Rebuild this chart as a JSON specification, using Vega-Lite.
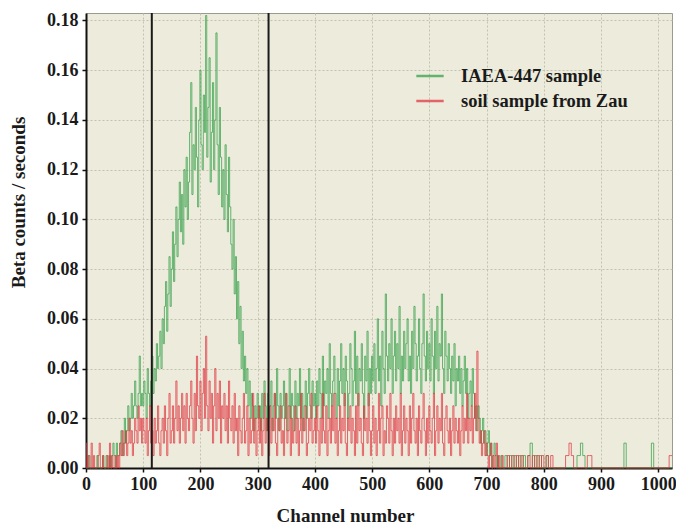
{
  "$schema": "https://vega.github.io/schema/vega-lite/v6.json",
  "autosize": {"type": "none"},
  "padding": {"left": 86, "top": 13, "right": 4, "bottom": 57},
  "width": 586,
  "height": 455,
  "config": {
    "font": "Liberation Serif",
    "view": {"fill": "#ecebdc", "stroke": "#9a9a90", "strokeWidth": 1}
  },
  "datasets": {
    "spec": [
      {"c":0,"g":0,"r":0.01},{"c":2,"g":0,"r":0},{"c":4,"g":0,"r":0.005},{"c":6,"g":0.005,"r":0},{"c":8,"g":0,"r":0},
      {"c":10,"g":0,"r":0.01},{"c":12,"g":0,"r":0},{"c":14,"g":0,"r":0.005},{"c":16,"g":0,"r":0},{"c":18,"g":0,"r":0},
      {"c":20,"g":0.005,"r":0},{"c":22,"g":0,"r":0.005},{"c":24,"g":0,"r":0.01},{"c":26,"g":0,"r":0},{"c":28,"g":0,"r":0},
      {"c":30,"g":0.005,"r":0.005},{"c":32,"g":0,"r":0},{"c":34,"g":0,"r":0},{"c":36,"g":0.005,"r":0},{"c":38,"g":0,"r":0.005},
      {"c":40,"g":0,"r":0},{"c":42,"g":0.005,"r":0.01},{"c":44,"g":0,"r":0},{"c":46,"g":0.005,"r":0.005},{"c":48,"g":0.01,"r":0},
      {"c":50,"g":0.005,"r":0},{"c":52,"g":0,"r":0.005},{"c":54,"g":0.01,"r":0},{"c":56,"g":0.005,"r":0.005},{"c":58,"g":0.005,"r":0},
      {"c":60,"g":0.01,"r":0.01},{"c":62,"g":0.015,"r":0.005},{"c":64,"g":0.005,"r":0.015},{"c":66,"g":0.01,"r":0.005},{"c":68,"g":0.02,"r":0.01},
      {"c":70,"g":0.01,"r":0.015},{"c":72,"g":0.015,"r":0.005},{"c":74,"g":0.025,"r":0.01},{"c":76,"g":0.015,"r":0.02},{"c":78,"g":0.02,"r":0.01},
      {"c":80,"g":0.03,"r":0.015},{"c":82,"g":0.02,"r":0.005},{"c":84,"g":0.025,"r":0.01},{"c":86,"g":0.035,"r":0.02},{"c":88,"g":0.025,"r":0.015},
      {"c":90,"g":0.02,"r":0.01},{"c":92,"g":0.03,"r":0.025},{"c":94,"g":0.045,"r":0.015},{"c":96,"g":0.025,"r":0.02},{"c":98,"g":0.03,"r":0.01},
      {"c":100,"g":0.025,"r":0.02},{"c":102,"g":0.035,"r":0.015},{"c":104,"g":0.03,"r":0.01},{"c":106,"g":0.02,"r":0.02},{"c":108,"g":0.04,"r":0.005},
      {"c":110,"g":0.03,"r":0.015},{"c":112,"g":0.025,"r":0.025},{"c":114,"g":0.035,"r":0.01},{"c":116,"g":0.045,"r":0.015},{"c":118,"g":0.03,"r":0.005},
      {"c":120,"g":0.04,"r":0.02},{"c":122,"g":0.035,"r":0.01},{"c":124,"g":0.05,"r":0.015},{"c":126,"g":0.04,"r":0.025},{"c":128,"g":0.045,"r":0.01},
      {"c":130,"g":0.055,"r":0.005},{"c":132,"g":0.04,"r":0.015},{"c":134,"g":0.06,"r":0.02},{"c":136,"g":0.05,"r":0.01},{"c":138,"g":0.065,"r":0.025},
      {"c":140,"g":0.075,"r":0.015},{"c":142,"g":0.055,"r":0.005},{"c":144,"g":0.07,"r":0.02},{"c":146,"g":0.085,"r":0.03},{"c":148,"g":0.065,"r":0.01},
      {"c":150,"g":0.08,"r":0.015},{"c":152,"g":0.095,"r":0.025},{"c":154,"g":0.075,"r":0.01},{"c":156,"g":0.09,"r":0.02},{"c":158,"g":0.105,"r":0.035},
      {"c":160,"g":0.085,"r":0.015},{"c":162,"g":0.1,"r":0.025},{"c":164,"g":0.115,"r":0.01},{"c":166,"g":0.095,"r":0.02},{"c":168,"g":0.11,"r":0.03},
      {"c":170,"g":0.09,"r":0.015},{"c":172,"g":0.12,"r":0.025},{"c":174,"g":0.105,"r":0.01},{"c":176,"g":0.125,"r":0.03},{"c":178,"g":0.1,"r":0.02},
      {"c":180,"g":0.115,"r":0.015},{"c":182,"g":0.135,"r":0.025},{"c":184,"g":0.155,"r":0.035},{"c":186,"g":0.11,"r":0.02},{"c":188,"g":0.13,"r":0.01},
      {"c":190,"g":0.12,"r":0.03},{"c":192,"g":0.145,"r":0.015},{"c":194,"g":0.125,"r":0.045},{"c":196,"g":0.105,"r":0.025},{"c":198,"g":0.14,"r":0.02},
      {"c":200,"g":0.16,"r":0.035},{"c":202,"g":0.13,"r":0.015},{"c":204,"g":0.12,"r":0.03},{"c":206,"g":0.15,"r":0.04},{"c":208,"g":0.135,"r":0.02},
      {"c":210,"g":0.182,"r":0.053},{"c":212,"g":0.125,"r":0.025},{"c":214,"g":0.145,"r":0.015},{"c":216,"g":0.165,"r":0.035},{"c":218,"g":0.115,"r":0.02},
      {"c":220,"g":0.135,"r":0.03},{"c":222,"g":0.155,"r":0.01},{"c":224,"g":0.12,"r":0.025},{"c":226,"g":0.14,"r":0.04},{"c":228,"g":0.175,"r":0.015},
      {"c":230,"g":0.13,"r":0.03},{"c":232,"g":0.11,"r":0.02},{"c":234,"g":0.145,"r":0.035},{"c":236,"g":0.125,"r":0.01},{"c":238,"g":0.105,"r":0.025},
      {"c":240,"g":0.12,"r":0.02},{"c":242,"g":0.1,"r":0.03},{"c":244,"g":0.13,"r":0.015},{"c":246,"g":0.11,"r":0.025},{"c":248,"g":0.095,"r":0.01},
      {"c":250,"g":0.125,"r":0.035},{"c":252,"g":0.105,"r":0.02},{"c":254,"g":0.09,"r":0.015},{"c":256,"g":0.08,"r":0.025},{"c":258,"g":0.1,"r":0.01},
      {"c":260,"g":0.07,"r":0.03},{"c":262,"g":0.085,"r":0.015},{"c":264,"g":0.06,"r":0.02},{"c":266,"g":0.075,"r":0.005},{"c":268,"g":0.05,"r":0.025},
      {"c":270,"g":0.065,"r":0.015},{"c":272,"g":0.04,"r":0.01},{"c":274,"g":0.055,"r":0.02},{"c":276,"g":0.035,"r":0.03},{"c":278,"g":0.045,"r":0.01},
      {"c":280,"g":0.03,"r":0.015},{"c":282,"g":0.04,"r":0.025},{"c":284,"g":0.025,"r":0.005},{"c":286,"g":0.035,"r":0.02},{"c":288,"g":0.02,"r":0.01},
      {"c":290,"g":0.03,"r":0.015},{"c":292,"g":0.025,"r":0.03},{"c":294,"g":0.015,"r":0.01},{"c":296,"g":0.025,"r":0.02},{"c":298,"g":0.02,"r":0.005},
      {"c":300,"g":0.03,"r":0.015},{"c":302,"g":0.02,"r":0.025},{"c":304,"g":0.025,"r":0.01},{"c":306,"g":0.015,"r":0.02},{"c":308,"g":0.03,"r":0.005},
      {"c":310,"g":0.02,"r":0.015},{"c":312,"g":0.035,"r":0.03},{"c":314,"g":0.025,"r":0.01},{"c":316,"g":0.015,"r":0.02},{"c":318,"g":0.03,"r":0.015},
      {"c":320,"g":0.02,"r":0.005},{"c":322,"g":0.025,"r":0.025},{"c":324,"g":0.035,"r":0.01},{"c":326,"g":0.015,"r":0.02},{"c":328,"g":0.025,"r":0.015},
      {"c":330,"g":0.03,"r":0.03},{"c":332,"g":0.02,"r":0.01},{"c":334,"g":0.04,"r":0.005},{"c":336,"g":0.025,"r":0.02},{"c":338,"g":0.015,"r":0.015},
      {"c":340,"g":0.03,"r":0.025},{"c":342,"g":0.02,"r":0.01},{"c":344,"g":0.025,"r":0.015},{"c":346,"g":0.035,"r":0.005},{"c":348,"g":0.02,"r":0.02},
      {"c":350,"g":0.03,"r":0.03},{"c":352,"g":0.015,"r":0.01},{"c":354,"g":0.025,"r":0.015},{"c":356,"g":0.04,"r":0.025},{"c":358,"g":0.02,"r":0.005},
      {"c":360,"g":0.03,"r":0.02},{"c":362,"g":0.025,"r":0.01},{"c":364,"g":0.015,"r":0.015},{"c":366,"g":0.035,"r":0.025},{"c":368,"g":0.02,"r":0.01},
      {"c":370,"g":0.03,"r":0.02},{"c":372,"g":0.025,"r":0.005},{"c":374,"g":0.04,"r":0.015},{"c":376,"g":0.02,"r":0.03},{"c":378,"g":0.03,"r":0.01},
      {"c":380,"g":0.015,"r":0.02},{"c":382,"g":0.025,"r":0.015},{"c":384,"g":0.035,"r":0.025},{"c":386,"g":0.02,"r":0.005},{"c":388,"g":0.03,"r":0.01},
      {"c":390,"g":0.04,"r":0.02},{"c":392,"g":0.025,"r":0.015},{"c":394,"g":0.02,"r":0.03},{"c":396,"g":0.035,"r":0.01},{"c":398,"g":0.025,"r":0.015},
      {"c":400,"g":0.03,"r":0.02},{"c":402,"g":0.02,"r":0.01},{"c":404,"g":0.035,"r":0.025},{"c":406,"g":0.025,"r":0.015},{"c":408,"g":0.04,"r":0.005},
      {"c":410,"g":0.03,"r":0.02},{"c":412,"g":0.02,"r":0.01},{"c":414,"g":0.045,"r":0.03},{"c":416,"g":0.025,"r":0.015},{"c":418,"g":0.035,"r":0.01},
      {"c":420,"g":0.03,"r":0.025},{"c":422,"g":0.04,"r":0.005},{"c":424,"g":0.02,"r":0.015},{"c":426,"g":0.05,"r":0.02},{"c":428,"g":0.03,"r":0.01},
      {"c":430,"g":0.025,"r":0.025},{"c":432,"g":0.035,"r":0.015},{"c":434,"g":0.045,"r":0.03},{"c":436,"g":0.03,"r":0.01},{"c":438,"g":0.02,"r":0.02},
      {"c":440,"g":0.04,"r":0.005},{"c":442,"g":0.025,"r":0.015},{"c":444,"g":0.035,"r":0.025},{"c":446,"g":0.05,"r":0.01},{"c":448,"g":0.03,"r":0.02},
      {"c":450,"g":0.04,"r":0.015},{"c":452,"g":0.025,"r":0.03},{"c":454,"g":0.045,"r":0.01},{"c":456,"g":0.035,"r":0.005},{"c":458,"g":0.02,"r":0.02},
      {"c":460,"g":0.03,"r":0.015},{"c":462,"g":0.05,"r":0.025},{"c":464,"g":0.04,"r":0.01},{"c":466,"g":0.025,"r":0.02},{"c":468,"g":0.035,"r":0.015},
      {"c":470,"g":0.055,"r":0.005},{"c":472,"g":0.03,"r":0.025},{"c":474,"g":0.045,"r":0.01},{"c":476,"g":0.025,"r":0.03},{"c":478,"g":0.04,"r":0.015},
      {"c":480,"g":0.035,"r":0.02},{"c":482,"g":0.05,"r":0.01},{"c":484,"g":0.03,"r":0.005},{"c":486,"g":0.02,"r":0.025},{"c":488,"g":0.045,"r":0.015},
      {"c":490,"g":0.035,"r":0.02},{"c":492,"g":0.055,"r":0.01},{"c":494,"g":0.025,"r":0.03},{"c":496,"g":0.04,"r":0.015},{"c":498,"g":0.03,"r":0.005},
      {"c":500,"g":0.045,"r":0.015},{"c":502,"g":0.035,"r":0.025},{"c":504,"g":0.05,"r":0.01},{"c":506,"g":0.03,"r":0.02},{"c":508,"g":0.04,"r":0.005},
      {"c":510,"g":0.06,"r":0.015},{"c":512,"g":0.035,"r":0.03},{"c":514,"g":0.045,"r":0.01},{"c":516,"g":0.025,"r":0.02},{"c":518,"g":0.055,"r":0.025},
      {"c":520,"g":0.04,"r":0.005},{"c":522,"g":0.03,"r":0.015},{"c":524,"g":0.07,"r":0.01},{"c":526,"g":0.045,"r":0.025},{"c":528,"g":0.035,"r":0.02},
      {"c":530,"g":0.05,"r":0.01},{"c":532,"g":0.04,"r":0.03},{"c":534,"g":0.06,"r":0.015},{"c":536,"g":0.03,"r":0.005},{"c":538,"g":0.045,"r":0.02},
      {"c":540,"g":0.055,"r":0.01},{"c":542,"g":0.035,"r":0.025},{"c":544,"g":0.05,"r":0.015},{"c":546,"g":0.04,"r":0.02},{"c":548,"g":0.065,"r":0.01},
      {"c":550,"g":0.03,"r":0.03},{"c":552,"g":0.045,"r":0.005},{"c":554,"g":0.035,"r":0.015},{"c":556,"g":0.055,"r":0.025},{"c":558,"g":0.04,"r":0.01},
      {"c":560,"g":0.05,"r":0.02},{"c":562,"g":0.06,"r":0.015},{"c":564,"g":0.035,"r":0.005},{"c":566,"g":0.045,"r":0.025},{"c":568,"g":0.03,"r":0.01},
      {"c":570,"g":0.055,"r":0.02},{"c":572,"g":0.04,"r":0.03},{"c":574,"g":0.065,"r":0.015},{"c":576,"g":0.05,"r":0.01},{"c":578,"g":0.035,"r":0.02},
      {"c":580,"g":0.045,"r":0.005},{"c":582,"g":0.06,"r":0.025},{"c":584,"g":0.04,"r":0.015},{"c":586,"g":0.03,"r":0.01},{"c":588,"g":0.05,"r":0.02},
      {"c":590,"g":0.07,"r":0.03},{"c":592,"g":0.045,"r":0.015},{"c":594,"g":0.035,"r":0.005},{"c":596,"g":0.055,"r":0.02},{"c":598,"g":0.04,"r":0.01},
      {"c":600,"g":0.05,"r":0.025},{"c":602,"g":0.035,"r":0.015},{"c":604,"g":0.06,"r":0.01},{"c":606,"g":0.045,"r":0.02},{"c":608,"g":0.03,"r":0.03},
      {"c":610,"g":0.055,"r":0.005},{"c":612,"g":0.04,"r":0.015},{"c":614,"g":0.065,"r":0.025},{"c":616,"g":0.035,"r":0.01},{"c":618,"g":0.05,"r":0.02},
      {"c":620,"g":0.045,"r":0.015},{"c":622,"g":0.07,"r":0.03},{"c":624,"g":0.04,"r":0.01},{"c":626,"g":0.03,"r":0.005},{"c":628,"g":0.055,"r":0.02},
      {"c":630,"g":0.045,"r":0.025},{"c":632,"g":0.035,"r":0.015},{"c":634,"g":0.05,"r":0.01},{"c":636,"g":0.04,"r":0.02},{"c":638,"g":0.03,"r":0.005},
      {"c":640,"g":0.045,"r":0.015},{"c":642,"g":0.035,"r":0.025},{"c":644,"g":0.05,"r":0.01},{"c":646,"g":0.025,"r":0.02},{"c":648,"g":0.04,"r":0.015},
      {"c":650,"g":0.035,"r":0.01},{"c":652,"g":0.045,"r":0.02},{"c":654,"g":0.03,"r":0.005},{"c":656,"g":0.04,"r":0.015},{"c":658,"g":0.025,"r":0.025},
      {"c":660,"g":0.035,"r":0.01},{"c":662,"g":0.045,"r":0.02},{"c":664,"g":0.03,"r":0.015},{"c":666,"g":0.04,"r":0.03},{"c":668,"g":0.02,"r":0.01},
      {"c":670,"g":0.03,"r":0.02},{"c":672,"g":0.035,"r":0.015},{"c":674,"g":0.025,"r":0.025},{"c":676,"g":0.04,"r":0.01},{"c":678,"g":0.03,"r":0.02},
      {"c":680,"g":0.02,"r":0.03},{"c":682,"g":0.025,"r":0.015},{"c":684,"g":0.015,"r":0.047},{"c":686,"g":0.025,"r":0.02},{"c":688,"g":0.02,"r":0.01},
      {"c":690,"g":0.01,"r":0.015},{"c":692,"g":0.015,"r":0.005},{"c":694,"g":0.02,"r":0.01},{"c":696,"g":0.01,"r":0.015},{"c":698,"g":0.015,"r":0.005},
      {"c":700,"g":0.005,"r":0.01},{"c":702,"g":0.01,"r":0.005},{"c":704,"g":0.015,"r":0},{"c":706,"g":0.005,"r":0.005},{"c":708,"g":0.01,"r":0.01},
      {"c":710,"g":0,"r":0},{"c":712,"g":0.005,"r":0.005},{"c":714,"g":0.01,"r":0},{"c":716,"g":0.005,"r":0.005},{"c":718,"g":0,"r":0.01},
      {"c":720,"g":0.005,"r":0},{"c":722,"g":0,"r":0.005},{"c":724,"g":0,"r":0},{"c":726,"g":0.005,"r":0},{"c":728,"g":0,"r":0.005},
      {"c":730,"g":0,"r":0},{"c":734,"g":0.005,"r":0},{"c":738,"g":0,"r":0.005},{"c":742,"g":0.005,"r":0},{"c":746,"g":0,"r":0.005},
      {"c":750,"g":0.005,"r":0},{"c":754,"g":0,"r":0.005},{"c":758,"g":0.005,"r":0},{"c":762,"g":0,"r":0.005},{"c":766,"g":0.005,"r":0},
      {"c":770,"g":0,"r":0},{"c":774,"g":0.005,"r":0.005},{"c":778,"g":0.01,"r":0},{"c":782,"g":0,"r":0.005},{"c":786,"g":0.005,"r":0},
      {"c":790,"g":0,"r":0.005},{"c":794,"g":0.005,"r":0},{"c":798,"g":0,"r":0.005},{"c":802,"g":0,"r":0},{"c":806,"g":0.005,"r":0.005},
      {"c":810,"g":0,"r":0},{"c":814,"g":0,"r":0.005},{"c":818,"g":0,"r":0},{"c":826,"g":0,"r":0},{"c":834,"g":0,"r":0},
      {"c":842,"g":0,"r":0.005},{"c":846,"g":0,"r":0.01},{"c":850,"g":0,"r":0.005},{"c":854,"g":0,"r":0},{"c":862,"g":0.005,"r":0},
      {"c":866,"g":0.01,"r":0},{"c":870,"g":0.005,"r":0},{"c":874,"g":0,"r":0},{"c":878,"g":0,"r":0.005},{"c":882,"g":0,"r":0.005},
      {"c":886,"g":0,"r":0},{"c":894,"g":0,"r":0},{"c":902,"g":0,"r":0},{"c":910,"g":0,"r":0},{"c":918,"g":0,"r":0},
      {"c":926,"g":0,"r":0},{"c":934,"g":0,"r":0},{"c":938,"g":0,"r":0},{"c":942,"g":0.01,"r":0},{"c":946,"g":0,"r":0},
      {"c":954,"g":0,"r":0},{"c":962,"g":0,"r":0},{"c":970,"g":0,"r":0},{"c":978,"g":0,"r":0},{"c":986,"g":0,"r":0},
      {"c":990,"g":0.01,"r":0},{"c":994,"g":0,"r":0},{"c":1002,"g":0,"r":0},{"c":1010,"g":0,"r":0},{"c":1018,"g":0,"r":0},
      {"c":1020,"g":0,"r":0.005},{"c":1024,"g":0,"r":0.005}
    ],
    "marks": [{"ch": 115}, {"ch": 319}]
  },
  "data": {"name": "spec"},
  "layer": [
    {
      "mark": {"type": "line", "interpolate": "step", "strokeWidth": 1, "opacity": 0.72},
      "encoding": {
        "x": {
          "field": "c", "type": "quantitative",
          "scale": {"domain": [0, 1024], "nice": false, "zero": false},
          "axis": {
            "values": [0,50,100,150,200,250,300,350,400,450,500,550,600,650,700,750,800,850,900,950,1000],
            "format": "d",
            "labelExpr": "datum.value % 100 === 0 ? datum.label : ''",
            "grid": true, "gridColor": "#c4c1ae", "gridDash": [2, 2], "gridWidth": 1,
            "domainColor": "#111111", "domainWidth": 2,
            "ticks": true, "tickSize": 4, "tickWidth": 1.5,
            "tickColor": {"condition": {"test": "datum.value % 100 === 0", "value": "#111111"}, "value": "transparent"},
            "labelFont": "Liberation Serif", "labelFontWeight": "bold", "labelFontSize": 18, "labelColor": "#1a1a1a", "labelPadding": 3,
            "labelFlush": false, "labelOverlap": false,
            "title": "Channel number",
            "titleFont": "Liberation Serif", "titleFontWeight": "bold", "titleFontSize": 19, "titleColor": "#1a1a1a",
            "titleX": 259, "titleY": 47, "titleAlign": "center", "titleBaseline": "middle", "titleAnchor": null
          }
        },
        "y": {
          "field": "g", "type": "quantitative",
          "scale": {"domain": [0, 0.183], "nice": false, "zero": true},
          "axis": {
            "values": [0,0.005,0.01,0.015,0.02,0.025,0.03,0.035,0.04,0.045,0.05,0.055,0.06,0.065,0.07,0.075,0.08,0.085,0.09,0.095,0.1,0.105,0.11,0.115,0.12,0.125,0.13,0.135,0.14,0.145,0.15,0.155,0.16,0.165,0.17,0.175,0.18],
            "labelExpr": "round(datum.value * 1000) % 20 === 0 ? format(datum.value, '.2f') : ''",
            "grid": true, "gridColor": "#c4c1ae", "gridDash": [2, 2], "gridWidth": 1,
            "domainColor": "#111111", "domainWidth": 2,
            "ticks": true, "tickSize": 4, "tickWidth": 1.5,
            "tickColor": {"condition": {"test": "round(datum.value * 1000) % 20 === 0", "value": "#111111"}, "value": "transparent"},
            "labelFont": "Liberation Serif", "labelFontWeight": "bold", "labelFontSize": 18, "labelColor": "#1a1a1a", "labelPadding": 4,
            "labelFlush": false, "labelOverlap": false,
            "title": "Beta counts / seconds",
            "titleFont": "Liberation Serif", "titleFontWeight": "bold", "titleFontSize": 19, "titleColor": "#1a1a1a",
            "titleX": -68, "titleY": 189, "titleAngle": -90, "titleAlign": "center", "titleBaseline": "middle", "titleAnchor": null
          }
        },
        "color": {
          "datum": "IAEA-447 sample",
          "type": "nominal",
          "scale": {"domain": ["IAEA-447 sample", "soil sample from Zau"], "range": ["#2f9e44", "#e0303c"]},
          "legend": {
            "orient": "none", "legendX": 329, "legendY": 48, "title": null,
            "symbolType": "stroke", "symbolSize": 750, "symbolStrokeWidth": 2.5, "symbolOpacity": 1,
            "labelFont": "Liberation Serif", "labelFontWeight": "bold", "labelFontSize": 18.5, "labelColor": "#1a1a1a",
            "labelOffset": 16, "labelLimit": 400, "rowPadding": 0
          }
        }
      }
    },
    {
      "mark": {"type": "line", "interpolate": "step", "strokeWidth": 1, "opacity": 0.72},
      "encoding": {
        "x": {"field": "c", "type": "quantitative"},
        "y": {"field": "r", "type": "quantitative"},
        "color": {"datum": "soil sample from Zau", "type": "nominal"}
      }
    },
    {
      "data": {"name": "marks"},
      "mark": {"type": "rule", "color": "#1a1a1a", "strokeWidth": 2},
      "encoding": {
        "x": {"field": "ch", "type": "quantitative"}
      }
    }
  ]
}
